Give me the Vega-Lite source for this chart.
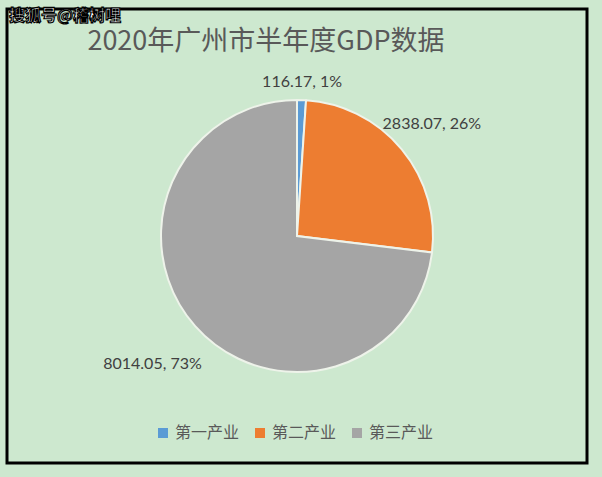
{
  "$schema": "https://vega.github.io/schema/vega-lite/v6.json",
  "autosize": "none",
  "width": 580,
  "height": 454,
  "padding": {"left": 7, "top": 9, "right": 15, "bottom": 14},
  "background": "#cde8cf",
  "view": {"stroke": "#000000", "strokeWidth": 3, "fill": "#cde8cf"},
  "title": {
    "text": "2020年广州市半年度GDP数据",
    "anchor": "middle",
    "frame": "group",
    "dx": -31,
    "offset": -48,
    "font": "Noto Sans CJK SC",
    "fontSize": 27,
    "fontWeight": "normal",
    "color": "#595959"
  },
  "data": {
    "values": [
      {"category": "第一产业", "value": 116.17, "label": "116.17, 1%", "order": 1},
      {"category": "第二产业", "value": 2838.07, "label": "2838.07, 26%", "order": 2},
      {"category": "第三产业", "value": 8014.05, "label": "8014.05, 73%", "order": 3}
    ]
  },
  "layer": [
    {
      "mark": {"type": "arc", "outerRadius": 136, "stroke": "#eef3ea", "strokeWidth": 2},
      "encoding": {
        "theta": {"field": "value", "type": "quantitative", "stack": true},
        "order": {"field": "order", "type": "quantitative"},
        "color": {
          "field": "category",
          "type": "nominal",
          "sort": ["第一产业", "第二产业", "第三产业"],
          "scale": {"domain": ["第一产业", "第二产业", "第三产业"], "range": ["#5b9bd5", "#ed7d31", "#a5a5a5"]},
          "legend": {
            "orient": "none",
            "direction": "horizontal",
            "legendX": 148,
            "legendY": 416,
            "title": null,
            "symbolType": "square",
            "symbolSize": 100,
            "symbolStrokeWidth": 0,
            "labelFont": "Noto Sans CJK SC",
            "labelFontSize": 16,
            "labelColor": "#595959",
            "labelOffset": 4,
            "columnPadding": 12
          }
        }
      }
    },
    {
      "mark": {"type": "text", "font": "Lato", "fontSize": 16, "color": "#404040"},
      "encoding": {
        "theta": {"field": "value", "type": "quantitative", "stack": true},
        "order": {"field": "order", "type": "quantitative"},
        "text": {"field": "label", "type": "nominal"},
        "radius": {"field": "value", "type": "quantitative", "scale": {"type": "sqrt", "zero": false, "domain": [116.17, 8014.05], "range": [154, 193]}}
      }
    },
    {
      "data": {"values": [{"mark": "搜狐号@稽树哩"}]},
      "mark": {"type": "text", "font": "Noto Sans CJK SC", "fontSize": 16, "fontWeight": "bold", "fill": "#ffffff", "stroke": "#000000", "strokeWidth": 1.2, "align": "left", "baseline": "top", "x": 2, "y": -1},
      "encoding": {
        "text": {"field": "mark", "type": "nominal"}
      }
    }
  ]
}
